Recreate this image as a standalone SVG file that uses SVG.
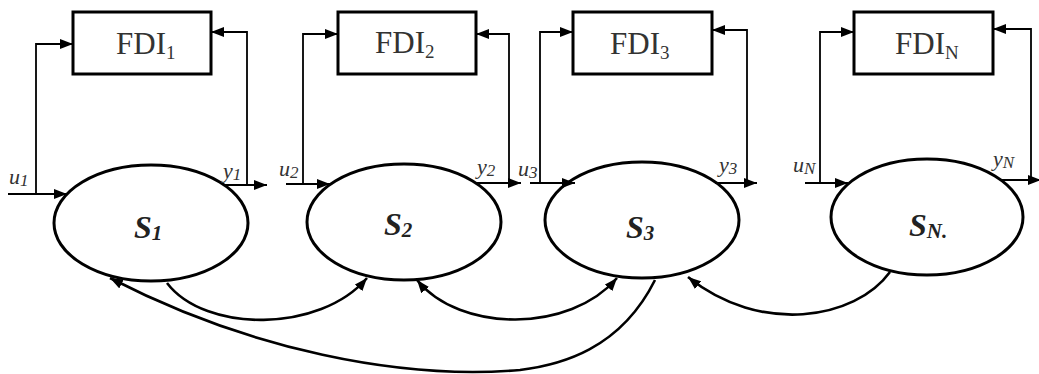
<svg xmlns="http://www.w3.org/2000/svg" width="1039" height="374" viewBox="0 0 1039 374">
<defs>
<marker id="ah" markerUnits="userSpaceOnUse" markerWidth="14" markerHeight="10" refX="13" refY="5" orient="auto-start-reverse"><path d="M0,0 L13,5 L0,10 z" fill="#000"/></marker>
<style>
.box{fill:#fff;stroke:#000;stroke-width:3}
.ell{fill:#fff;stroke:#000;stroke-width:3}
.feed{fill:none;stroke:#000;stroke-width:1.8;marker-end:url(#ah)}
.curve{fill:none;stroke:#000;stroke-width:2.6}
.fdi{font-family:"Liberation Serif",serif;font-size:31px;fill:#333}
.sub{font-size:19px}
.io{font-family:"Liberation Serif",serif;font-style:italic;font-size:22px;fill:#333}
.isub{font-size:17px}
.sl{font-family:"Liberation Serif",serif;font-style:italic;font-weight:bold;font-size:32px;fill:#222}
.ssub{font-size:21px}
</style>
</defs>
<g id="fdi1"><rect class="box" x="73" y="12" width="138" height="62"/><text class="fdi" x="116" y="54">FDI<tspan class="sub" dy="5">1</tspan></text></g>
<g id="fdi2"><rect class="box" x="338" y="12" width="138" height="62"/><text class="fdi" x="375" y="53">FDI<tspan class="sub" dy="5">2</tspan></text></g>
<g id="fdi3"><rect class="box" x="573" y="12" width="139" height="62"/><text class="fdi" x="610" y="54">FDI<tspan class="sub" dy="5">3</tspan></text></g>
<g id="fdiN"><rect class="box" x="854" y="12" width="139" height="62"/><text class="fdi" x="895" y="54">FDI<tspan class="sub" dy="5">N</tspan></text></g>
<g id="s1"><ellipse class="ell" cx="151" cy="223" rx="97" ry="58"/><text class="sl" x="134" y="238">S<tspan class="ssub" dy="2">1</tspan></text></g>
<g id="s2"><ellipse class="ell" cx="404" cy="222" rx="97" ry="58"/><text class="sl" x="384" y="235">S<tspan class="ssub" dy="2">2</tspan></text></g>
<g id="s3"><ellipse class="ell" cx="642" cy="220" rx="97" ry="58"/><text class="sl" x="626" y="238">S<tspan class="ssub" dy="2">3</tspan></text></g>
<g id="sN"><ellipse class="ell" cx="927" cy="217" rx="96" ry="58"/><text class="sl" x="909" y="236">S<tspan class="ssub" dy="2">N.</tspan></text></g>
<g id="labels">
<text class="io" x="9" y="184">u<tspan class="isub" dy="2">1</tspan></text>
<text class="io" x="223" y="178">y<tspan class="isub" dy="2">1</tspan></text>
<text class="io" x="279" y="176">u<tspan class="isub" dy="2">2</tspan></text>
<text class="io" x="477" y="174">y<tspan class="isub" dy="2">2</tspan></text>
<text class="io" x="518" y="176">u<tspan class="isub" dy="2">3</tspan></text>
<text class="io" x="719" y="172">y<tspan class="isub" dy="2">3</tspan></text>
<text class="io" x="793" y="172">u<tspan class="isub" dy="2">N</tspan></text>
<text class="io" x="993" y="166">y<tspan class="isub" dy="2">N</tspan></text>
</g>
<g id="connectors">
<path class="feed" d="M8,194 H67"/>
<path class="feed" d="M36,194 V44 H73"/>
<path class="feed" d="M247,185 V32 H211"/>
<path class="feed" d="M224,185 H267"/>
<path class="feed" d="M286,184 H330"/>
<path class="feed" d="M303,184 V34 H338"/>
<path class="feed" d="M509,183 V34 H476"/>
<path class="feed" d="M477,183 H521"/>
<path class="feed" d="M530,183 H575"/>
<path class="feed" d="M540,183 V32 H573"/>
<path class="feed" d="M747,183 V30 H712"/>
<path class="feed" d="M715,183 H757"/>
<path class="feed" d="M805,183 H848"/>
<path class="feed" d="M820,183 V32 H854"/>
<path class="feed" d="M1031,180 V29 H993"/>
<path class="feed" d="M1000,180 H1041"/>
<path class="curve" d="M167,283 C205,333 320,333 367,278" marker-end="url(#ah)"/>
<path class="curve" d="M417,280 C460,333 570,333 617,278" marker-start="url(#ah)" marker-end="url(#ah)"/>
<path class="curve" d="M655,280 C620,350 560,365 520,370 C400,380 250,350 110,278" marker-end="url(#ah)"/>
<path class="curve" d="M890,272 C855,320 760,335 688,277" marker-end="url(#ah)"/>
</g>
</svg>
